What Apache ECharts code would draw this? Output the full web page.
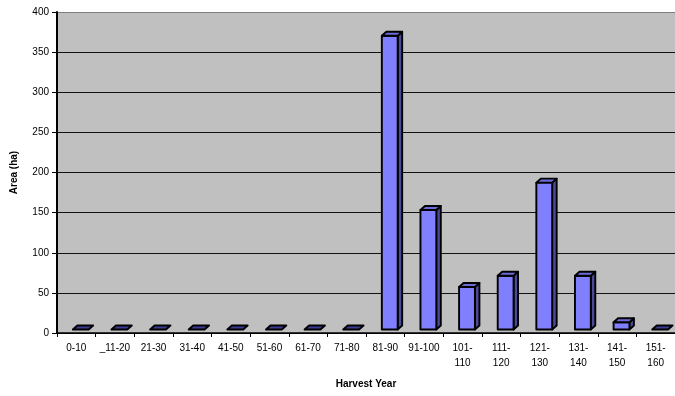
<!DOCTYPE html>
<html>
<head>
<meta charset="utf-8">
<script src="https://cdn.jsdelivr.net/npm/echarts@6/dist/echarts.min.js"></script>
<style>
  html, body { margin: 0; padding: 0; background: #ffffff; }
  #chart { width: 675px; height: 396px; }
</style>
</head>
<body>
<div id="chart"></div>
<script>
// Harvest-year classes and their area in hectares
const categories = ['0-10', '_11-20', '21-30', '31-40', '41-50', '51-60', '61-70', '71-80',
  '81-90', '91-100', '101-110', '111-120', '121-130', '131-140', '141-150', '151-160'];
const areaHa = [0, 0, 0, 0, 0, 0, 0, 0, 366, 149, 53, 67, 183, 67, 9, 0];
const yTicks = [0, 50, 100, 150, 200, 250, 300, 350, 400];

const chart = echarts.init(document.getElementById('chart'), null, { renderer: 'canvas' });

// Pseudo-3D column: front face, right side face and top face
function renderColumn(params, api) {
  const idx = api.value(0);
  const v = api.value(1);
  const base = api.coord([idx, 0]);
  const top = api.coord([idx, v]);
  const bw = api.size([1, 0])[0];
  const cx = base[0];
  const lift = 3.5;          // column sits slightly back on the floor
  const dx = 4.5, dy = 4;    // depth offset
  const x0 = cx - 0.09 * bw;
  const x1 = cx + 0.32 * bw;
  const yb = base[1] - lift;
  const yt = top[1] - lift;
  const stroke = { stroke: '#000000', lineWidth: 1.9, lineJoin: 'round' };
  const children = [];
  if (yb - yt > 0.5) {
    children.push({
      type: 'polygon',
      shape: { points: [[x1, yb], [x1 + dx, yb - dy], [x1 + dx, yt - dy], [x1, yt]] },
      style: Object.assign({ fill: '#4a4a96' }, stroke)
    });
    children.push({
      type: 'polygon',
      shape: { points: [[x0, yb], [x1, yb], [x1, yt], [x0, yt]] },
      style: Object.assign({ fill: '#8080ff' }, stroke)
    });
  }
  children.push({
    type: 'polygon',
    shape: { points: [[x0, yt], [x1, yt], [x1 + dx, yt - dy], [x0 + dx, yt - dy]] },
    style: Object.assign({ fill: v > 0 ? '#6c6cd8' : '#3c3c96' }, stroke)
  });
  return { type: 'group', children: children };
}

const gridColors = yTicks.map((t, i) => (i === yTicks.length - 1 ? '#808080' : '#111111'));

chart.setOption({
  animation: false,
  backgroundColor: '#ffffff',
  textStyle: { fontFamily: 'Liberation Sans, Arial, sans-serif' },
  grid: {
    left: 57, right: 0, top: 12, bottom: 63,
    show: true, backgroundColor: '#c0c0c0', borderWidth: 0
  },
  xAxis: {
    type: 'category',
    data: categories,
    boundaryGap: true,
    name: 'Harvest Year',
    nameLocation: 'middle',
    nameGap: 46,
    nameTextStyle: { fontSize: 10, fontWeight: 'bold', color: '#000' },
    axisLine: { lineStyle: { color: '#000', width: 1.5 } },
    axisTick: { show: true, length: 4, interval: 0, lineStyle: { color: '#000', width: 1 } },
    axisLabel: {
      interval: 0, fontSize: 10, color: '#000', margin: 8, lineHeight: 15,
      formatter: function (s) {
        if (s.length > 6) {
          const k = s.indexOf('-');
          return s.slice(0, k + 1) + '\n' + s.slice(k + 1);
        }
        return s;
      }
    },
    splitLine: { show: false }
  },
  yAxis: {
    type: 'value',
    min: 0, max: 400, interval: 50,
    name: 'Area (ha)',
    nameLocation: 'middle',
    nameGap: 38,
    nameTextStyle: { fontSize: 10, fontWeight: 'bold', color: '#000' },
    axisLine: { show: true, lineStyle: { color: '#000', width: 2 } },
    axisTick: { show: true, length: 5, lineStyle: { color: '#000', width: 1 } },
    axisLabel: { fontSize: 10, color: '#000', margin: 8 },
    splitLine: { show: true, lineStyle: { color: gridColors, width: 1 } }
  },
  series: [{
    type: 'custom',
    renderItem: renderColumn,
    data: areaHa.map((v, i) => [i, v]),
    encode: { x: 0, y: 1 },
    clip: false
  }]
});
</script>
</body>
</html>
